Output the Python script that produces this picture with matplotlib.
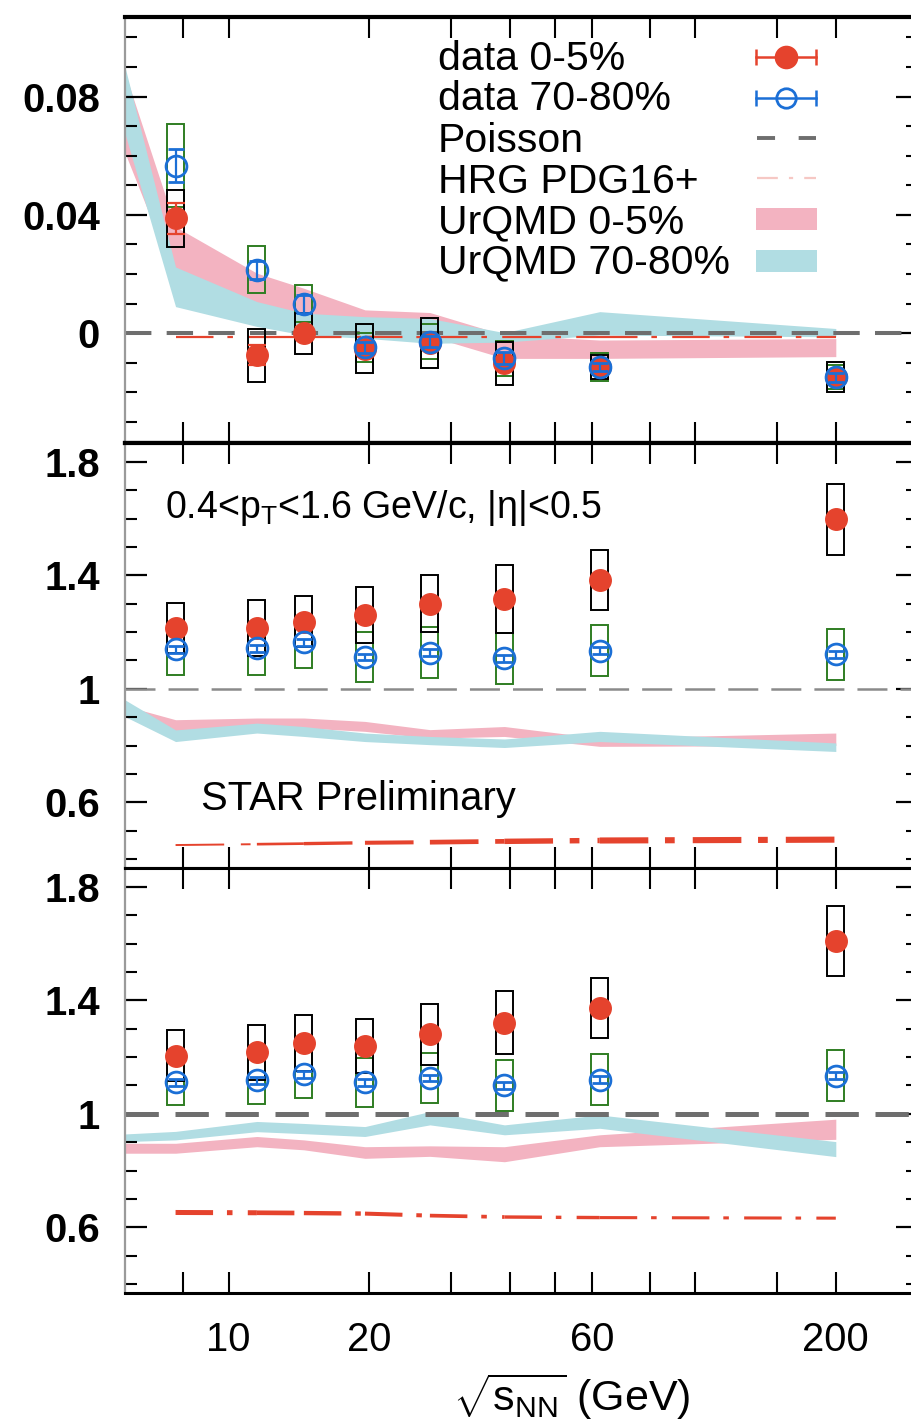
import matplotlib
matplotlib.use("Agg")
import matplotlib.pyplot as plt
from matplotlib.patches import Rectangle
from matplotlib.ticker import FixedLocator, MultipleLocator, NullLocator
import numpy as np

plt.rcParams["font.family"] = ["Liberation Sans", "DejaVu Sans"]
plt.rcParams["mathtext.fontset"] = "custom"
plt.rcParams["mathtext.rm"] = "Liberation Sans"
plt.rcParams["mathtext.it"] = "Liberation Sans"
plt.rcParams["lines.scale_dashes"] = False

# collision energies (GeV)
energy = [7.7, 11.5, 14.5, 19.6, 27, 39, 62.4, 200]
band_energy = [6.0, 7.7, 11.5, 14.5, 19.6, 27, 39, 62.4, 200]

# --- top panel ---
top_c05 = [0.0388, -0.0075, 0.0, -0.0052, -0.0033, -0.0102, -0.0115, -0.0148]
top_c05_stat = [0.0052, 0.0034, 0.002, 0.0015, 0.0015, 0.0015, 0.001, 0.001]
top_c05_sys = [0.0096, 0.009, 0.007, 0.0082, 0.0084, 0.0072, 0.004, 0.005]
top_c7080 = [0.0567, 0.0215, 0.0100, -0.0048, -0.0028, -0.0085, -0.0114, -0.0149]
top_c7080_stat = [0.0055, 0.003, 0.003, 0.002, 0.002, 0.002, 0.0015, 0.0015]
top_c7080_sys = [0.014, 0.0079, 0.0063, 0.005, 0.006, 0.006, 0.0048, 0.004]
top_u05_lo = [0.061, 0.018, 0.008, 0.004, 0.0015, -0.001, -0.0085, -0.0085, -0.0079]
top_u05_hi = [0.088, 0.036, 0.0203, 0.0152, 0.0079, 0.0070, -0.0006, -0.0023, -0.0018]
top_u7080_lo = [0.0675, 0.009, 0.0023, -0.0006, -0.0017, -0.0034, -0.0030, -0.0006, -0.0012]
top_u7080_hi = [0.090, 0.0224, 0.0107, 0.0068, 0.0056, 0.0050, 0.0002, 0.0073, 0.0016]
top_hrg = [-0.0012, -0.0012, -0.0012, -0.0012, -0.0013, -0.0013, -0.0013, -0.0013]

# --- middle panel ---
mid_c05 = [1.214, 1.214, 1.237, 1.26, 1.30, 1.318, 1.384, 1.598]
mid_c05_stat = [0.015, 0.015, 0.015, 0.015, 0.015, 0.015, 0.015, 0.015]
mid_c05_sys = [0.088, 0.10, 0.09, 0.10, 0.10, 0.12, 0.105, 0.126]
mid_c7080 = [1.14, 1.143, 1.164, 1.112, 1.128, 1.108, 1.135, 1.122]
mid_c7080_stat = [0.012, 0.012, 0.012, 0.012, 0.012, 0.012, 0.012, 0.012]
mid_c7080_sys = [0.09, 0.094, 0.09, 0.088, 0.09, 0.09, 0.09, 0.09]
mid_u05_lo = [0.90, 0.85, 0.867, 0.862, 0.85, 0.826, 0.832, 0.797, 0.80]
mid_u05_hi = [0.94, 0.891, 0.897, 0.897, 0.885, 0.856, 0.867, 0.826, 0.844]
mid_u7080_lo = [0.902, 0.814, 0.844, 0.832, 0.814, 0.803, 0.793, 0.814, 0.779]
mid_u7080_hi = [0.961, 0.855, 0.879, 0.867, 0.844, 0.832, 0.823, 0.85, 0.809]
mid_hrg = [0.449, 0.452, 0.454, 0.457, 0.459, 0.462, 0.465, 0.468]

# --- bottom panel ---
bot_c05 = [1.205, 1.217, 1.25, 1.24, 1.28, 1.322, 1.373, 1.609]
bot_c05_stat = [0.015, 0.015, 0.015, 0.015, 0.015, 0.015, 0.015, 0.015]
bot_c05_sys = [0.09, 0.097, 0.10, 0.096, 0.108, 0.112, 0.106, 0.124]
bot_c7080 = [1.111, 1.118, 1.14, 1.111, 1.126, 1.101, 1.12, 1.134]
bot_c7080_stat = [0.012, 0.012, 0.012, 0.012, 0.012, 0.012, 0.012, 0.012]
bot_c7080_sys = [0.08, 0.083, 0.085, 0.087, 0.087, 0.09, 0.09, 0.09]
bot_u05_lo = [0.861, 0.861, 0.884, 0.873, 0.843, 0.85, 0.831, 0.884, 0.91]
bot_u05_hi = [0.896, 0.896, 0.92, 0.908, 0.884, 0.887, 0.884, 0.926, 0.981]
bot_u7080_lo = [0.902, 0.908, 0.937, 0.93, 0.92, 0.961, 0.926, 0.949, 0.849]
bot_u7080_hi = [0.929, 0.938, 0.973, 0.966, 0.955, 1.008, 0.961, 0.996, 0.902]
bot_hrg = [0.652, 0.651, 0.650, 0.648, 0.641, 0.636, 0.634, 0.632]

xtick_pos = [8, 10, 20, 30, 40, 50, 60, 80, 100, 150, 200]
xtick_text = {10: "10", 20: "20", 60: "60", 200: "200"}

RED = "#e5432d"
BLUE = "#1b6fd6"
GREEN = "#2f7d22"
PINK = "#f3b3c1"
CYAN = "#b1dde3"
FS = 28.8

W, H = 911, 1421
fig = plt.figure(figsize=(W / 100, H / 100), dpi=100)


def add_panel(top_px, bot_px):
    return fig.add_axes([125 / W, 1 - bot_px / H, 793 / W, (bot_px - top_px) / H])


def sys_boxes(ax, ys, sys, color):
    for x, y, s in zip(energy, ys, sys):
        ax.add_patch(Rectangle((x / 1.043, y - s), x * 1.043 - x / 1.043, 2 * s,
                               fill=False, ec=color, lw=1.4, zorder=3))


def draw_panel(ax, c05, c05_stat, c05_sys, c7080, c7080_stat, c7080_sys,
               u05_lo, u05_hi, u7080_lo, u7080_hi, hrg, ref,
               poisson_lw, poisson_dash, poisson_color, hrg_lw, hrg_dash):
    ax.fill_between(band_energy, u05_lo, u05_hi, color=PINK, lw=0, zorder=1)
    ax.fill_between(band_energy, u7080_lo, u7080_hi, color=CYAN, lw=0, zorder=1.1)
    ax.axhline(ref, color=poisson_color, lw=poisson_lw, dashes=poisson_dash, zorder=2)
    # HRG curve drawn segment by segment so its width can change along x
    widths = np.linspace(hrg_lw[0], hrg_lw[1], len(energy) - 1)
    for i in range(len(energy) - 1):
        ax.plot(energy[i:i + 2], hrg[i:i + 2], color=RED, lw=widths[i],
                dashes=hrg_dash, solid_capstyle="butt", dash_capstyle="butt", zorder=2)
    sys_boxes(ax, c7080, c7080_sys, GREEN)
    sys_boxes(ax, c05, c05_sys, "black")
    ax.errorbar(energy, c05, yerr=c05_stat, fmt="o", ms=15.5, color=RED,
                elinewidth=1.6, capsize=6.5, capthick=1.6, zorder=4)
    ax.errorbar(energy, c7080, yerr=c7080_stat, fmt="o", ms=15, mfc="none",
                mec=BLUE, mew=2.0, color=BLUE, elinewidth=1.6, capsize=6,
                capthick=1.6, zorder=5)


def style_axes(ax, ylim, yticks, ylabels, yminor, show_xlabels):
    ax.set_xscale("log")
    ax.set_xlim(6, 300)
    ax.set_ylim(*ylim)
    ax.xaxis.set_major_locator(FixedLocator(xtick_pos))
    ax.xaxis.set_minor_locator(NullLocator())
    ax.set_xticklabels([xtick_text.get(v, "") for v in xtick_pos], fontsize=FS)
    ax.set_yticks(yticks)
    ax.set_yticklabels(ylabels, fontsize=FS, fontweight="bold")
    ax.yaxis.set_minor_locator(MultipleLocator(yminor))
    ax.tick_params(axis="both", which="both", direction="in", top=True, right=True)
    ax.tick_params(axis="x", which="major", length=15, width=1.5, pad=20,
                   labelbottom=show_xlabels)
    ax.tick_params(axis="y", which="major", length=16, width=1.6, pad=18)
    ax.tick_params(axis="y", which="minor", length=8.5, width=1.5)
    ax.spines["left"].set_color("#9a9a9a")
    ax.spines["left"].set_linewidth(1.6)
    ax.spines["top"].set_linewidth(2.2)
    ax.spines["bottom"].set_linewidth(2.2)


ax1 = add_panel(17, 443)
ax2 = add_panel(443, 868)
ax3 = add_panel(868, 1293)

draw_panel(ax1, top_c05, top_c05_stat, top_c05_sys, top_c7080, top_c7080_stat,
           top_c7080_sys, top_u05_lo, top_u05_hi, top_u7080_lo, top_u7080_hi,
           top_hrg, 0.0, 2.9, (19, 11), "#6e6e6e", (1.6, 1.6), (27, 10, 4, 11))
draw_panel(ax2, mid_c05, mid_c05_stat, mid_c05_sys, mid_c7080, mid_c7080_stat,
           mid_c7080_sys, mid_u05_lo, mid_u05_hi, mid_u7080_lo, mid_u7080_hi,
           mid_hrg, 1.0, 1.8, (21.6, 9.4), "#8a8a8a", (1.4, 4.4), (35, 12, 7, 13))
draw_panel(ax3, bot_c05, bot_c05_stat, bot_c05_sys, bot_c7080, bot_c7080_stat,
           bot_c7080_sys, bot_u05_lo, bot_u05_hi, bot_u7080_lo, bot_u7080_hi,
           bot_hrg, 1.0, 3.6, (24, 12), "#6e6e6e", (3.6, 2.2), (27, 10, 4, 11))

style_axes(ax1, (-0.0371, 0.1069), [0, 0.04, 0.08], ["0", "0.04", "0.08"], 0.01, False)
style_axes(ax2, (0.368, 1.867), [0.6, 1.0, 1.4, 1.8], ["0.6", "1", "1.4", "1.8"], 0.1, False)
style_axes(ax3, (0.368, 1.867), [0.6, 1.0, 1.4, 1.8], ["0.6", "1", "1.4", "1.8"], 0.1, True)
ax1.spines["top"].set_linewidth(3.0)
ax1.spines["bottom"].set_linewidth(3.0)
ax2.spines["top"].set_linewidth(3.0)

# legend, laid out by hand: labels left-aligned, keys in a column on the right
def fx(px):
    return (px - 125) / 793


def fy(py):
    return (443 - py) / 426


labels = ["data 0-5%", "data 70-80%", "Poisson", "HRG PDG16+", "UrQMD 0-5%", "UrQMD 70-80%"]
baselines = [70, 110, 152, 193, 233, 273]
for lab, b in zip(labels, baselines):
    ax1.text(fx(438), fy(b), lab, transform=ax1.transAxes, fontsize=29.5,
             ha="left", va="baseline", zorder=6)

tr = ax1.transAxes
for yk, col, face in [(57, RED, RED), (98, BLUE, "none")]:
    ax1.plot([fx(756), fx(816)], [fy(yk), fy(yk)], color=col, lw=1.8, transform=tr,
             clip_on=False, zorder=6)
    ax1.plot([fx(756), fx(816)], [fy(yk), fy(yk)], ls="none", marker="|", ms=11,
             mew=1.8, color=col, transform=tr, clip_on=False, zorder=6)
    ax1.plot([fx(786)], [fy(yk)], ls="none", marker="o", ms=15 if face != "none" else 14,
             mfc=face, mec=col, mew=2.0, transform=tr, clip_on=False, zorder=7)
ax1.plot([fx(757), fx(816)], [fy(138), fy(138)], color="#6e6e6e", lw=2.8,
         dashes=(13, 17), transform=tr, zorder=6)
ax1.plot([fx(757), fx(816)], [fy(178), fy(178)], color="#f6c8c4", lw=1.6,
         dashes=(15, 8, 3, 8), transform=tr, zorder=6)
ax1.add_patch(Rectangle((fx(756), fy(230)), fx(817) - fx(756), fy(208) - fy(230),
                        transform=tr, color=PINK, lw=0, zorder=6))
ax1.add_patch(Rectangle((fx(756), fy(272)), fx(817) - fx(756), fy(250) - fy(272),
                        transform=tr, color=CYAN, lw=0, zorder=6))

ax2.text((165 - 125) / 793, (868 - 518) / 425,
         "0.4<p$_{\\mathregular{T}}$<1.6 GeV/c, |η|<0.5",
         transform=ax2.transAxes, fontsize=27, ha="left", va="baseline")
ax2.text((201 - 125) / 793, (868 - 810) / 425, "STAR Preliminary",
         transform=ax2.transAxes, fontsize=FS, ha="left", va="baseline")

fig.text(572 / W, 1 - 1411 / H, r"$\sqrt{s_{\mathregular{NN}}}$ (GeV)",
         fontsize=31, ha="center", va="baseline")

fig.savefig("out.png", dpi=100)
